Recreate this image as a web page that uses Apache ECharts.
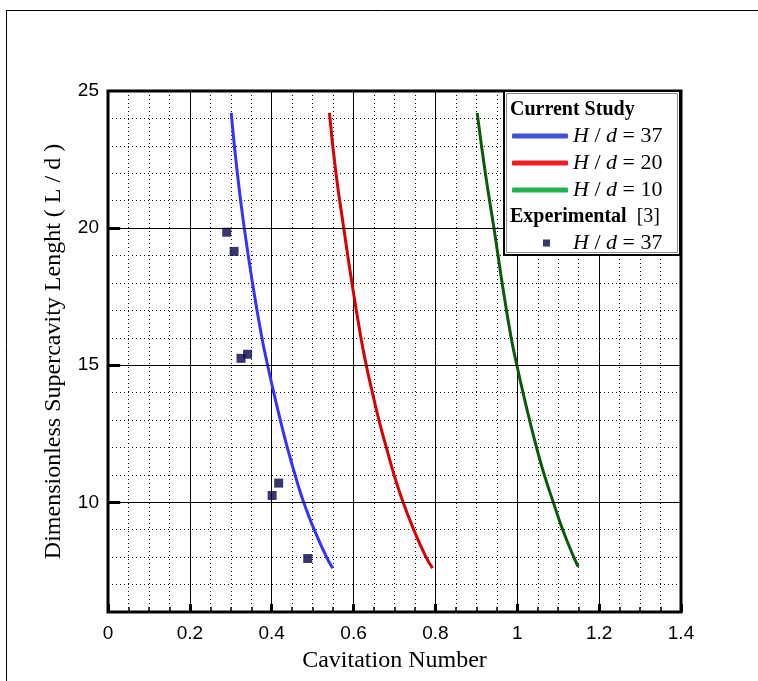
<!DOCTYPE html>
<html>
<head>
<meta charset="utf-8">
<title>Supercavity length vs cavitation number</title>
<script src="https://cdn.jsdelivr.net/npm/echarts@6/dist/echarts.min.js"></script>
<style>
  html, body { margin: 0; padding: 0; background: #fff; }
  #chart { width: 758px; height: 681px; }
</style>
</head>
<body>
<div id="chart"></div>
<script>
// Current study: supercavity length L/d against cavitation number for three H/d ratios
const sigma37 = [0.301, 0.316, 0.333, 0.353, 0.376, 0.390, 0.405, 0.421, 0.438, 0.457, 0.478, 0.504, 0.534, 0.549];
const len37   = [24.2, 22, 20, 18, 16, 15, 14, 13, 12, 11, 10, 9, 8, 7.6];
const sigma20 = [0.541, 0.557, 0.576, 0.596, 0.618, 0.631, 0.646, 0.662, 0.680, 0.699, 0.721, 0.747, 0.777, 0.793];
const len20   = [24.2, 22, 20, 18, 16, 15, 14, 13, 12, 11, 10, 9, 8, 7.6];
const sigma10 = [0.902, 0.922, 0.943, 0.963, 0.985, 0.999, 1.014, 1.030, 1.047, 1.066, 1.088, 1.111, 1.138, 1.149];
const len10   = [24.2, 22, 20, 18, 16, 15, 14, 13, 12, 11, 10, 9, 8, 7.65];

// Experimental reference [3], H/d = 37
const expSigma = [0.290, 0.308, 0.325, 0.341, 0.401, 0.417, 0.488];
const expLen   = [19.85, 19.15, 15.25, 15.4, 10.25, 10.7, 7.95];

// Axis ticks
const xTicks = [0, 0.2, 0.4, 0.6, 0.8, 1, 1.2, 1.4];
const yTickLabels = [10, 15, 20, 25];
const yMajorLines = [10, 15, 20];

const zip = (xs, ys) => xs.map((x, i) => [x, ys[i]]);

const SERIF = '"Liberation Serif", "Times New Roman", serif';
const SANS = '"Liberation Sans", Arial, sans-serif';

const legendLabel = name => {
  const n = name.match(/(\d+)$/)[1];
  return '{i|H} / {i|d} = ' + n;
};
const legendRich = {
  i: { fontFamily: SERIF, fontStyle: 'italic', fontSize: 22, color: '#000', lineHeight: 22 }
};

const chart = echarts.init(document.getElementById('chart'), null, { renderer: 'canvas' });

chart.setOption({
  backgroundColor: '#fff',
  animation: false,
  grid: {
    left: 108, top: 91, right: 77, bottom: 69,
    show: true, borderColor: '#000', borderWidth: 3, backgroundColor: 'transparent'
  },
  xAxis: {
    type: 'value', min: xTicks[0], max: xTicks[xTicks.length - 1], interval: 0.2,
    name: 'Cavitation Number', nameLocation: 'middle', nameGap: 37,
    nameTextStyle: { fontFamily: SERIF, fontSize: 24, color: '#000' },
    axisLine: { show: false },
    axisTick: { show: true, inside: true, length: 8, lineStyle: { color: '#000', width: 3 } },
    minorTick: { show: true, splitNumber: 4, length: 5, lineStyle: { color: '#000', width: 1.5 } },
    axisLabel: {
      margin: 12, fontFamily: SANS, fontSize: 19, color: '#000',
      formatter: v => xTicks.some(t => Math.abs(t - v) < 1e-9) ? String(+v.toFixed(1)) : ''
    },
    splitLine: { show: true, lineStyle: { color: '#000', width: 1, type: 'solid' } },
    minorSplitLine: { show: true, lineStyle: { color: '#111', width: 1, type: [1, 3] } }
  },
  yAxis: {
    type: 'value', min: 6, max: 25, interval: 1,
    name: 'Dimensionless Supercavity Lenght ( L / d )', nameLocation: 'middle', nameGap: 42,
    nameTextStyle: { fontFamily: SERIF, fontSize: 24, color: '#000' },
    axisLine: { show: false },
    axisTick: { show: false },
    axisLabel: {
      margin: 9, fontFamily: SANS, fontSize: 19, color: '#000',
      formatter: v => yTickLabels.includes(v) ? String(v) : ''
    },
    splitLine: { show: true, lineStyle: { color: '#111', width: 1, type: [1, 3] } }
  },
  legend: [
    {
      orient: 'vertical', left: 512, top: 125, padding: 0, itemGap: 5,
      itemWidth: 56, itemHeight: 5, icon: 'roundRect', z: 8,
      selectedMode: false,
      textStyle: { fontFamily: SERIF, fontSize: 22, color: '#000', lineHeight: 22, rich: legendRich },
      formatter: legendLabel,
      data: [
        { name: 'H / d = 37', itemStyle: { color: '#4050dd' } },
        { name: 'H / d = 20', itemStyle: { color: '#ee1c24' } },
        { name: 'H / d = 10', itemStyle: { color: '#22b14c' } }
      ]
    },
    {
      orient: 'vertical', left: 543, top: 232, padding: 0,
      itemWidth: 7, itemHeight: 7, icon: 'rect', z: 8,
      selectedMode: false,
      textStyle: { fontFamily: SERIF, fontSize: 22, color: '#000', lineHeight: 22, padding: [0, 0, 0, 18], rich: legendRich },
      formatter: legendLabel,
      data: [{ name: 'Experimental [3] H / d = 37', itemStyle: { color: '#06064a' } }]
    }
  ],
  graphic: [
    // page frame
    { type: 'line', shape: { x1: 7, y1: 10.5, x2: 758, y2: 10.5 }, style: { stroke: '#000', lineWidth: 1 }, silent: true },
    { type: 'line', shape: { x1: 6.5, y1: 10, x2: 6.5, y2: 681 }, style: { stroke: '#000', lineWidth: 1 }, silent: true },
    // legend box
    { type: 'rect', z: 6, shape: { x: 504, y: 91, width: 176, height: 164 },
      style: { fill: '#fff', stroke: '#000', lineWidth: 2 }, silent: true },
    { type: 'rect', z: 6, shape: { x: 506.5, y: 93.5, width: 171, height: 159 },
      style: { fill: 'none', stroke: '#888', lineWidth: 1 }, silent: true },
    { type: 'text', z: 7, x: 510, y: 110, silent: true,
      style: { text: 'Current Study', fontFamily: SERIF, fontWeight: 'bold', fontSize: 20, fill: '#000', verticalAlign: 'middle' } },
    { type: 'text', z: 7, x: 510, y: 217, silent: true,
      style: {
        text: '{b|Experimental}  [3]', fontFamily: SERIF, fontSize: 20, fill: '#000', verticalAlign: 'middle',
        rich: { b: { fontFamily: SERIF, fontWeight: 'bold', fontSize: 20, fill: '#000' } }
      } }
  ],
  series: [
    {
      // solid major grid lines and ticks on the y axis
      type: 'line', data: [], z: 1, silent: true,
      markLine: {
        silent: true, symbol: ['none', 'none'], label: { show: false },
        animation: false,
        data: [
          ...yMajorLines.map(v => ({ yAxis: v, lineStyle: { color: '#000', width: 1, type: 'solid' } })),
          ...yMajorLines.map(v => [
            { coord: [xTicks[0], v], lineStyle: { color: '#000', width: 3, type: 'solid' } },
            { coord: [xTicks[0] + 0.03, v] }
          ])
        ]
      }
    },
    {
      name: 'H / d = 37', type: 'line', data: zip(sigma37, len37),
      smooth: true, symbol: 'none', lineStyle: { color: '#3333ff', width: 3 }, itemStyle: { color: '#4050dd' }, z: 3
    },
    {
      name: 'H / d = 20', type: 'line', data: zip(sigma20, len20),
      smooth: true, symbol: 'none', lineStyle: { color: '#d90000', width: 3 }, itemStyle: { color: '#ee1c24' }, z: 3
    },
    {
      name: 'H / d = 10', type: 'line', data: zip(sigma10, len10),
      smooth: true, symbol: 'none', lineStyle: { color: '#0b5a0b', width: 3 }, itemStyle: { color: '#22b14c' }, z: 3
    },
    {
      name: 'Experimental [3] H / d = 37', type: 'scatter', data: zip(expSigma, expLen),
      symbol: 'rect', symbolSize: 9, itemStyle: { color: '#06064a' }, z: 4
    }
  ]
});
</script>
</body>
</html>
